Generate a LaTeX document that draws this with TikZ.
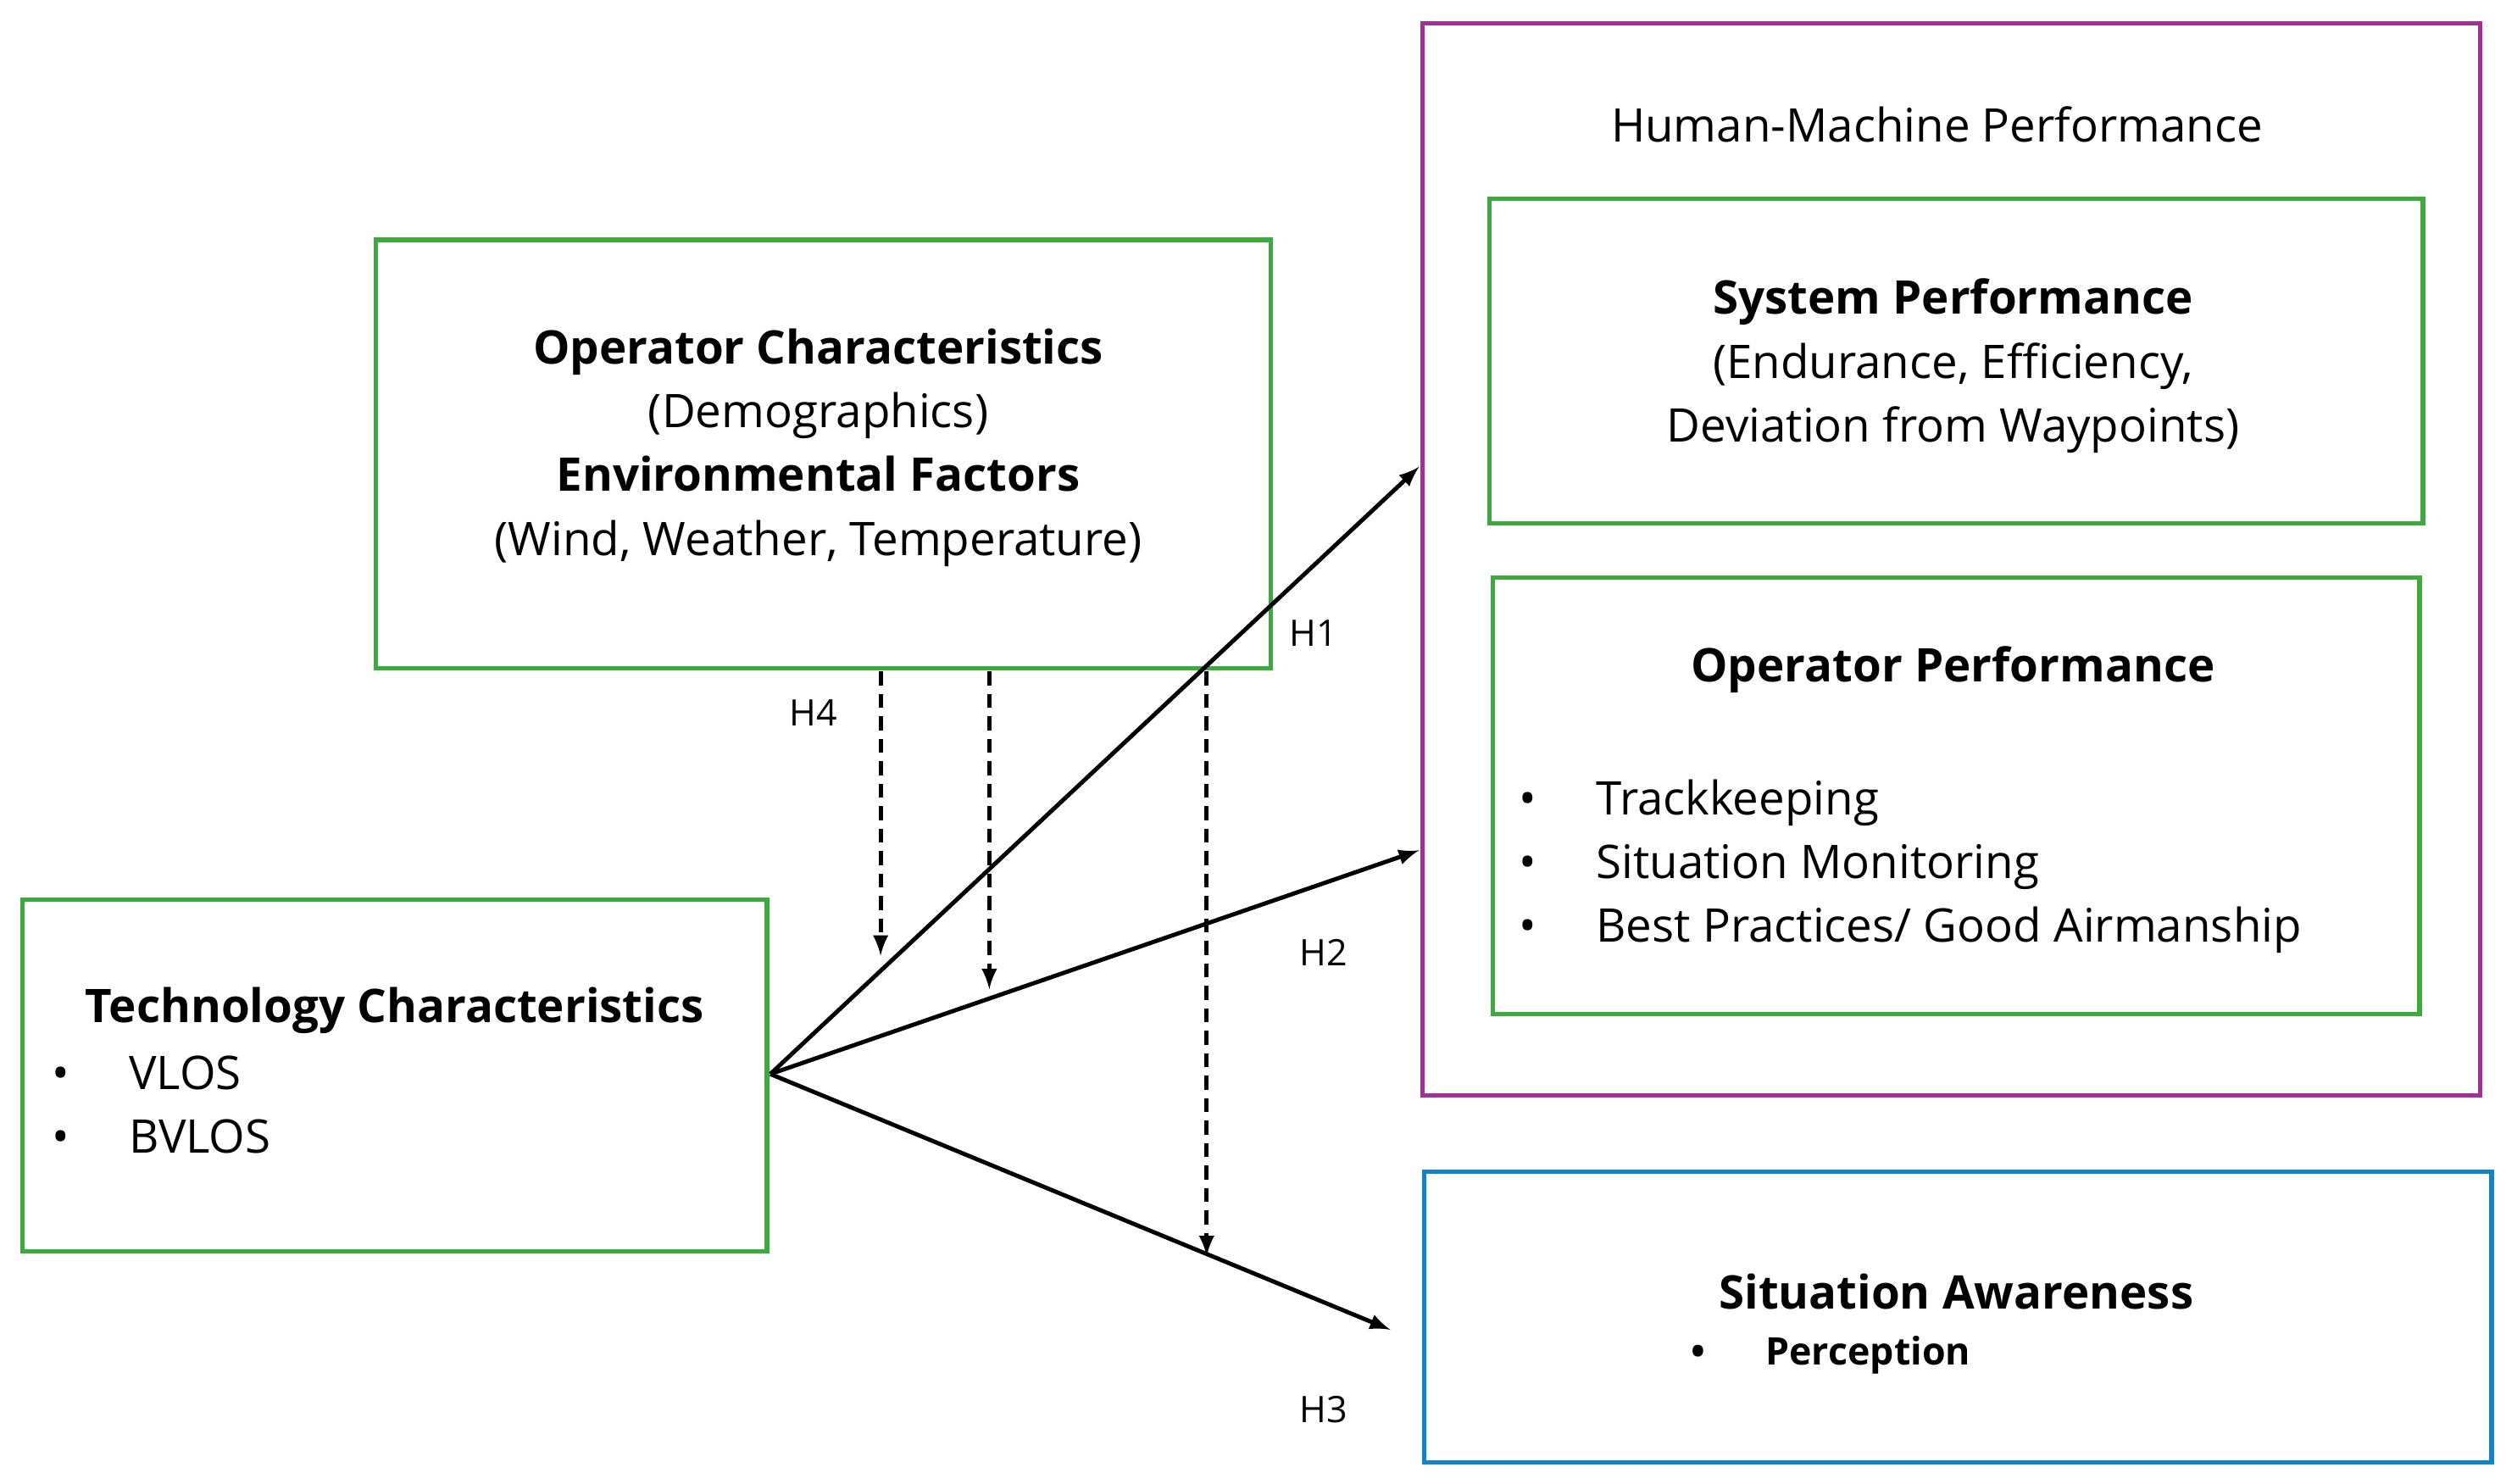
\documentclass[tikz,border=0pt]{standalone}
\usepackage{fontspec}
\setmainfont{Open Sans}
\usetikzlibrary{positioning}
\definecolor{boxgreen}{RGB}{60,170,60}
\definecolor{boxpurple}{RGB}{160,50,150}
\definecolor{boxblue}{RGB}{20,130,200}
\begin{document}
\begin{tikzpicture}[x=0.02cm,y=-0.02cm,
    box/.style={draw=boxgreen,line width=1.6pt,rectangle,inner sep=0pt},
    txt/.style={font=\fontsize{16.5}{22.7}\selectfont,align=center,inner sep=0pt},
    hyp/.style={font=\fontsize{13}{15}\selectfont,inner sep=0pt},
    link/.style={line width=1.5pt,-latex},
    mod/.style={line width=1.5pt,dash pattern=on 5pt off 3pt,-latex}]
\useasboundingbox (0,0) rectangle (1568,928);
% boxes
\node[box,minimum width=11.2cm,minimum height=5.36cm] (opc) at (515,284) {};
\node[box,minimum width=9.32cm,minimum height=4.4cm] (tech) at (247,673) {};
\node[box,draw=boxpurple,minimum width=13.24cm,minimum height=13.42cm] (hmp) at (1221,350) {};
\node[box,minimum width=11.68cm,minimum height=4.06cm] (sys) at (1224,226) {};
\node[box,minimum width=11.6cm,minimum height=5.46cm] (opp) at (1224,498) {};
\node[box,draw=boxblue,minimum width=13.36cm,minimum height=3.64cm] (sa) at (1225,824) {};
% texts
\node[txt] (opctext) at (512,280) {\textbf{Operator Characteristics}\\(Demographics)\\\textbf{Environmental Factors}\\(Wind, Weather, Temperature)};
\node[txt] (hmptext) at (1212,78) {Human-Machine Performance};
\node[txt] (systext) at (1222,229) {\textbf{System Performance}\\(Endurance, Efficiency,\\Deviation from Waypoints)};
\node[txt] (opptitle) at (1222,419) {\textbf{Operator Performance}};
\node[txt,align=left,anchor=west] (opplist) at (950,542) {•\hspace{0.75cm}Trackkeeping\\•\hspace{0.75cm}Situation Monitoring\\•\hspace{0.75cm}Best Practices/ Good Airmanship};
\node[txt] (techtitle) at (247,632) {\textbf{Technology Characteristics}};
\node[txt,align=left,anchor=west] (techlist) at (32,691) {•\hspace{0.75cm}VLOS\\•\hspace{0.75cm}BVLOS};
\node[txt] (satitle) at (1224,808) {\textbf{Situation Awareness}};
\node[txt,font=\fontsize{13.5}{16}\selectfont\bfseries,anchor=west] (salist) at (1058,848) {•\hspace{0.75cm}Perception};
% hypotheses
\coordinate (src) at (482,672);
\coordinate (h1end) at (888,292);
\coordinate (h2end) at (888,532);
\coordinate (h3end) at (870,832);
\draw[link] (src) -- (h1end);
\draw[link] (src) -- (h2end);
\draw[link] (src) -- (h3end);
\coordinate (m1a) at (551,420); \coordinate (m1b) at (551,598);
\coordinate (m2a) at (619,420); \coordinate (m2b) at (619,619);
\coordinate (m3a) at (755,420); \coordinate (m3b) at (755,786);
\draw[mod] (m1a) -- (m1b);
\draw[mod] (m2a) -- (m2b);
\draw[mod] (m3a) -- (m3b);
\node[hyp] (h1) at (822,396) {H1};
\node[hyp] (h2) at (828,596) {H2};
\node[hyp] (h3) at (828,882) {H3};
\node[hyp] (h4) at (509,446) {H4};
\end{tikzpicture}
\end{document}
